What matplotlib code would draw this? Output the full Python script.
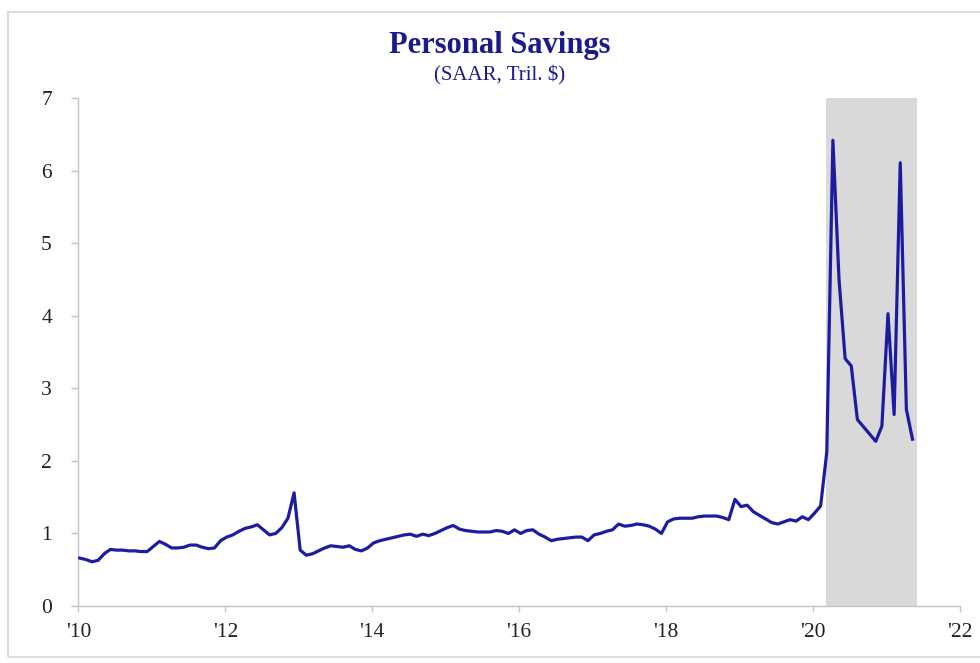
import numpy as np
import matplotlib
matplotlib.use("Agg")
import matplotlib.pyplot as plt
from matplotlib.patches import Rectangle

# monthly personal savings, SAAR, tril. $ (Jan 2010 .. May 2021)
savings = [
    0.66, 0.64, 0.61, 0.63, 0.72, 0.78, 0.77, 0.77, 0.76, 0.76, 0.75, 0.75,   # 2010
    0.82, 0.89, 0.85, 0.80, 0.80, 0.81, 0.84, 0.84, 0.81, 0.79, 0.80, 0.90,   # 2011
    0.95, 0.98, 1.03, 1.07, 1.09, 1.12, 1.05, 0.98, 1.00, 1.08, 1.21, 1.56,   # 2012
    0.77, 0.70, 0.72, 0.76, 0.80, 0.83, 0.82, 0.81, 0.83, 0.78, 0.76, 0.80,   # 2013
    0.87, 0.90, 0.92, 0.94, 0.96, 0.98, 0.99, 0.96, 0.99, 0.97, 1.00, 1.04,   # 2014
    1.08, 1.11, 1.06, 1.04, 1.03, 1.02, 1.02, 1.02, 1.04, 1.03, 1.00, 1.05,   # 2015
    1.00, 1.04, 1.05, 0.99, 0.95, 0.90, 0.92, 0.93, 0.94, 0.95, 0.95, 0.90,   # 2016
    0.98, 1.00, 1.03, 1.05, 1.13, 1.10, 1.11, 1.13, 1.12, 1.10, 1.06, 1.00,   # 2017
    1.16, 1.20, 1.21, 1.21, 1.21, 1.23, 1.24, 1.24, 1.24, 1.22, 1.19, 1.47,   # 2018
    1.37, 1.39, 1.30, 1.25, 1.20, 1.15, 1.13, 1.16, 1.19, 1.17, 1.23, 1.19,   # 2019
    1.28, 1.38, 2.12, 6.42, 4.50, 3.41, 3.31, 2.57, 2.47, 2.37, 2.27, 2.48,   # 2020
    4.03, 2.64, 6.11, 2.71, 2.30,                                             # 2021
]
start_year = 2010
shade_span = (2020.17, 2021.42)
xtick_years = [2010, 2012, 2014, 2016, 2018, 2020, 2022]
xtick_labels = ["'10", "'12", "'14", "'16", "'18", "'20", "'22"]
yticks = [0, 1, 2, 3, 4, 5, 6, 7]

t = start_year + np.arange(len(savings)) / 12.0

navy = "#1a1a8e"
line_col = "#1c1ca0"
axis_gray = "#c4c4c4"
serif = ["Liberation Serif", "DejaVu Serif"]

fig = plt.figure(figsize=(9.8, 6.63), dpi=100)
ax = fig.add_axes([0.0799, 0.086, 0.8997, 0.7658])

ax.axvspan(shade_span[0], shade_span[1], color="#d9d9d9", lw=0, zorder=0)
ax.plot(t + 0.02, savings, color=line_col, lw=2.3, solid_joinstyle="round", zorder=3)

ax.set_xlim(2010, 2022)
ax.set_ylim(0, 7)
ax.set_xticks(xtick_years)
ax.set_xticklabels(xtick_labels)
ax.set_yticks(yticks)

for s in ["top", "right"]:
    ax.spines[s].set_visible(False)
for s in ["left", "bottom"]:
    ax.spines[s].set_color(axis_gray)
    ax.spines[s].set_linewidth(1.0)

ax.tick_params(axis="y", direction="out", length=5, width=1, color=axis_gray,
               pad=14, labelsize=15.5, labelcolor="#222222")
ax.tick_params(axis="x", direction="out", length=4, width=1, color=axis_gray,
               pad=8, labelsize=15.5, labelcolor="#222222")
for lab in ax.get_xticklabels() + ax.get_yticklabels():
    lab.set_family(serif)

fig.text(0.51, 0.931, "Personal Savings", ha="center", va="center",
         fontsize=22, fontweight="bold", color=navy, family=serif)
fig.text(0.51, 0.886, "(SAAR, Tril. $)", ha="center", va="center",
         fontsize=15, color=navy, family=serif)

# light frame around the chart
fig.patches.append(Rectangle((8 / 980, 6 / 663), 1.0, 645 / 663, transform=fig.transFigure,
                             fill=False, edgecolor="#dcdcdc", lw=1.5))

fig.savefig("out.png", dpi=100)
